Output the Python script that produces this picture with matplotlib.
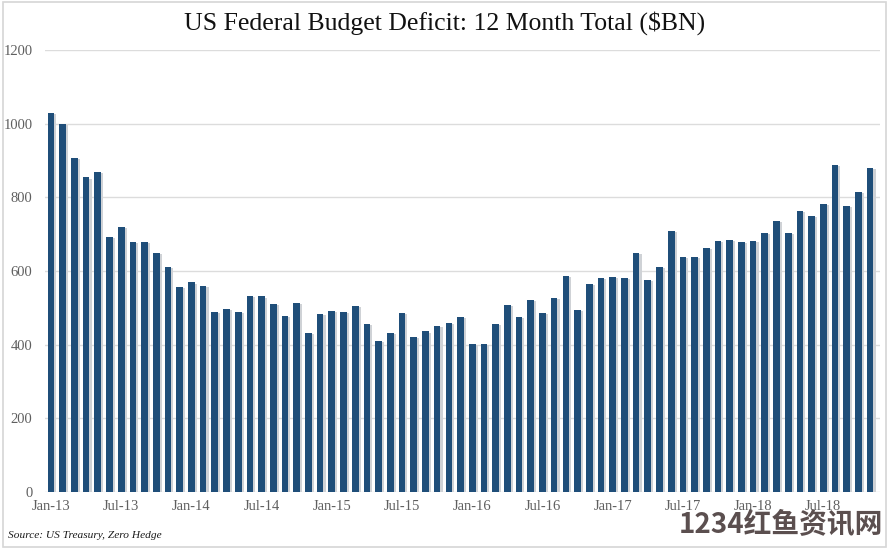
import matplotlib
matplotlib.use("Agg")
import matplotlib.pyplot as plt
from matplotlib.patches import Rectangle

months = ["Jan", "Feb", "Mar", "Apr", "May", "Jun", "Jul", "Aug", "Sep", "Oct", "Nov", "Dec"]
dates = [f"{m}-{y}" for y in range(13, 19) for m in months][:71]  # Jan-13 .. Nov-18

deficit = [1029, 1000, 908, 854, 869, 692, 720, 678, 678, 649, 612, 556,
           569, 559, 490, 496, 488, 533, 531, 511, 479, 513, 433, 484,
           492, 490, 506, 457, 411, 431, 486, 420, 436, 451, 460, 476,
           402, 402, 457, 509, 476, 521, 485, 527, 586, 495, 566,
           580, 583, 582, 650, 575, 610, 708, 637, 639, 663, 682,
           684, 679, 682, 704, 736, 704, 763, 749, 782, 889, 777, 814, 880]

tick_labels = [d for d in dates if d.startswith("Jan") or d.startswith("Jul")]
tick_pos = [dates.index(t) for t in tick_labels]
y_ticks = [0, 200, 400, 600, 800, 1000, 1200]

title = "US Federal Budget Deficit: 12 Month Total ($BN)"
source = "Source: US Treasury, Zero Hedge"
watermark = "1234红鱼资讯网"

fig = plt.figure(figsize=(8.9, 5.49), dpi=100)
fig.patch.set_facecolor("white")
ax = fig.add_axes([0.0506, 0.1038, 0.9382, 0.8051])

x = list(range(len(deficit)))
ax.bar([i + 0.18 for i in x], [v - 3 for v in deficit], width=0.57, color="#cfd2d6", zorder=2)
ax.bar(x, deficit, width=0.57, color="#1f4e79", zorder=3)

ax.set_xlim(-0.51, 70.85)
ax.set_ylim(0, 1200)
ax.set_yticks(y_ticks)
ax.set_yticklabels([str(v) for v in y_ticks])
ax.set_xticks(tick_pos)
ax.set_xticklabels(tick_labels)
ax.grid(axis="y", color="#dcdcdc", linewidth=1.0, zorder=0)
ax.set_axisbelow(True)
for s in ax.spines.values():
    s.set_visible(False)
ax.tick_params(axis="both", length=0, labelsize=10.5, labelcolor="#5f5f5f")
ax.tick_params(axis="y", pad=9)
ax.tick_params(axis="x", pad=6)
for lab in ax.get_xticklabels() + ax.get_yticklabels():
    lab.set_family("Liberation Serif")

fig.text(0.5, 0.958, title, ha="center", va="center", fontsize=18.5,
         family="Liberation Serif", color="#111111")
fig.text(0.009, 0.025, source, ha="left", va="center", fontsize=8.2,
         family="Liberation Serif", style="italic", color="#1a1a1a")
fig.text(0.992, 0.043, watermark, ha="right", va="center", fontsize=20,
         family=["Noto Sans CJK SC", "DejaVu Sans"], weight="bold", color="#5b4f4f")

fig.patches.append(Rectangle((0.003, 0.004), 0.993, 0.992, transform=fig.transFigure,
                             fill=False, edgecolor="#d6d6d6", linewidth=1.2))

fig.savefig("out.png", dpi=100)
